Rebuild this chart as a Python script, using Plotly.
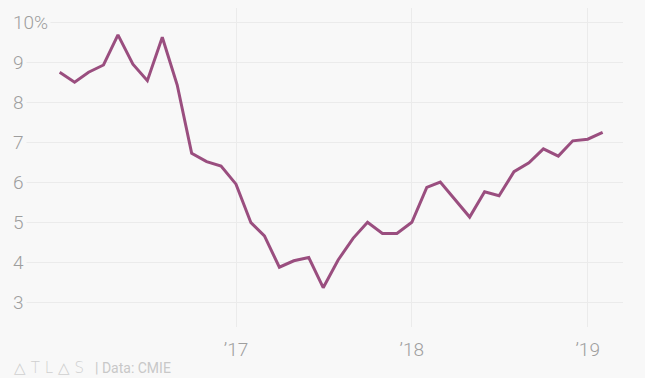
import plotly.graph_objects as go
import pandas as pd

# Data (monthly, Jan 2016 - Feb 2019), unemployment rate %
months = pd.date_range("2016-01-01", "2019-02-01", freq="MS")
values = [8.75, 8.50, 8.75, 8.93, 9.68, 8.95, 8.54, 9.62, 8.43, 6.73, 6.52, 6.41,
          5.96, 5.00, 4.67, 3.89, 4.05, 4.13, 3.38, 4.07, 4.61, 5.01, 4.73, 4.73,
          5.01, 5.88, 6.01, 5.58, 5.14, 5.77, 5.67, 6.27, 6.49, 6.84, 6.66, 7.04,
          7.08, 7.25]

x_tickvals = ["2017-01-01", "2018-01-01", "2019-01-01"]
x_ticktext = ["\u201917", "\u201918", "\u201919"]
y_tickvals = [3, 4, 5, 6, 7, 8, 9, 10]
y_ticktext = ["3", "4", "5", "6", "7", "8", "9", "10%"]

BG = "#f8f8f8"
GRID = "#ebebeb"
LINE = "#9a4e7f"
LABEL = "#9e9e9e"

W, H = 645, 378
L, R, T, B = 12, 623, 8, 327

# pixel calibration for x range
px_per_day = (587.7 - 236.0) / 730.0
x0 = pd.Timestamp("2017-01-01") - pd.Timedelta(days=(236.0 - L) / px_per_day)
x1 = pd.Timestamp("2019-01-01") + pd.Timedelta(days=(R - 587.7) / px_per_day)

fig = go.Figure()
fig.add_trace(go.Scatter(x=months, y=values, mode="lines",
                         line=dict(color=LINE, width=3), hoverinfo="skip"))

annotations = []
for v, t in zip(y_tickvals, y_ticktext):
    annotations.append(dict(xref="paper", x=0, xanchor="left", xshift=-2,
                            yref="y", y=v, yanchor="middle", text=t,
                            showarrow=False, bgcolor=BG, borderpad=2,
                            font=dict(family="Roboto", size=19, color=LABEL, weight=300)))

annotations.append(dict(xref="paper", yref="paper", x=0, xanchor="left",
                        y=-(368 - B) / (B - T), yanchor="middle",
                        text="\u25b3 T L \u25b3 S", showarrow=False,
                        font=dict(family="DejaVu Sans", size=15, color="#cfcfcf", weight=300)))
annotations.append(dict(xref="paper", yref="paper", x=(93 - L) / (R - L), xanchor="left",
                        y=-(368 - B) / (B - T), yanchor="middle",
                        text="| Data: CMIE", showarrow=False,
                        font=dict(family="Roboto", size=14, color="#c8c8c8")))

fig.update_layout(
    width=W, height=H,
    margin=dict(l=L, r=W - R, t=T, b=H - B),
    paper_bgcolor=BG, plot_bgcolor=BG,
    showlegend=False,
    xaxis=dict(range=[x0, x1], tickvals=x_tickvals, ticktext=x_ticktext,
               showgrid=True, gridcolor=GRID, gridwidth=1, zeroline=False,
               ticks="outside", ticklen=5, tickcolor="rgba(0,0,0,0)",
               tickfont=dict(family="Roboto", size=19, color=LABEL, weight=300),
               showline=False),
    yaxis=dict(range=[2.40, 10.35], tickvals=y_tickvals, showticklabels=False,
               showgrid=True, gridcolor=GRID, gridwidth=1, zeroline=False,
               showline=False),
    annotations=annotations,
)

fig.write_html("out.html")
